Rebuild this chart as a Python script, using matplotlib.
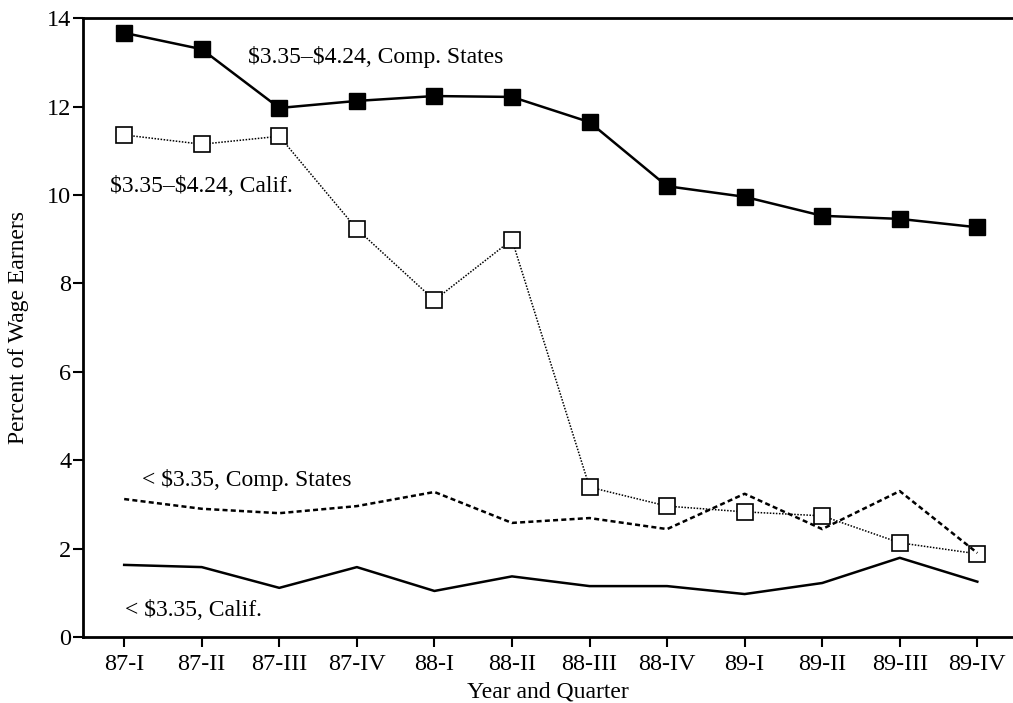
import matplotlib
matplotlib.use("Agg")
import matplotlib.pyplot as plt

quarters = ["87-I", "87-II", "87-III", "87-IV", "88-I", "88-II", "88-III",
            "88-IV", "89-I", "89-II", "89-III", "89-IV"]
mid_comp = [13.67, 13.30, 11.97, 12.13, 12.24, 12.22, 11.65, 10.20, 9.96, 9.53, 9.46, 9.27]
mid_calif = [11.36, 11.15, 11.33, 9.23, 7.62, 8.99, 3.39, 2.96, 2.83, 2.74, 2.13, 1.88]
low_comp = [3.12, 2.90, 2.80, 2.96, 3.28, 2.58, 2.69, 2.44, 3.24, 2.44, 3.30, 1.90]
low_calif = [1.63, 1.58, 1.11, 1.58, 1.04, 1.37, 1.15, 1.15, 0.97, 1.22, 1.79, 1.25]
yticks = [0, 2, 4, 6, 8, 10, 12, 14]

plt.rcParams['font.family'] = ['Liberation Serif', 'DejaVu Serif']

fig = plt.figure(figsize=(10.13, 7.03), dpi=100)
ax = fig.add_axes([0.082, 0.094, 0.918, 0.880])
x = list(range(len(quarters)))

ax.plot(x, mid_comp, color='black', lw=1.8, marker='s', markersize=11,
        markerfacecolor='black', markeredgecolor='black')
ax.plot(x, mid_calif, color='black', lw=1.1, linestyle=(0, (1, 1)), marker='s',
        markersize=11, markerfacecolor='white', markeredgecolor='black',
        markeredgewidth=1.2)
ax.plot(x, low_comp, color='black', lw=1.8, linestyle=(0, (2, 1.3)))
ax.plot(x, low_calif, color='black', lw=1.8)

fs = 17
ax.text(1.6, 13.12, "\\$3.35–\\$4.24, Comp. States", fontsize=fs, va='center', ha='left')
ax.text(-0.18, 10.2, "\\$3.35–\\$4.24, Calif.", fontsize=fs, va='center', ha='left')
ax.text(0.23, 3.55, "< \\$3.35, Comp. States", fontsize=fs, va='center', ha='left')
ax.text(0.01, 0.59, "< \\$3.35, Calif.", fontsize=fs, va='center', ha='left')

ax.set_xlim(-0.53, 11.46)
ax.set_ylim(0, 14)
ax.set_xticks(x)
ax.set_xticklabels(quarters, fontsize=fs + 0.5)
ax.set_yticks(yticks)
ax.set_yticklabels([str(v) for v in yticks], fontsize=fs + 0.5)
ax.tick_params(axis='both', direction='out', length=7, width=1.5)
ax.tick_params(axis='x', pad=5)
ax.tick_params(axis='y', pad=1.5)
ax.spines['right'].set_visible(False)
for s in ['left', 'bottom', 'top']:
    ax.spines[s].set_linewidth(2)
ax.set_xlabel("Year and Quarter", fontsize=fs, labelpad=5)
ax.set_ylabel("Percent of Wage Earners", fontsize=fs, labelpad=13)

fig.savefig("out.png", dpi=100)
